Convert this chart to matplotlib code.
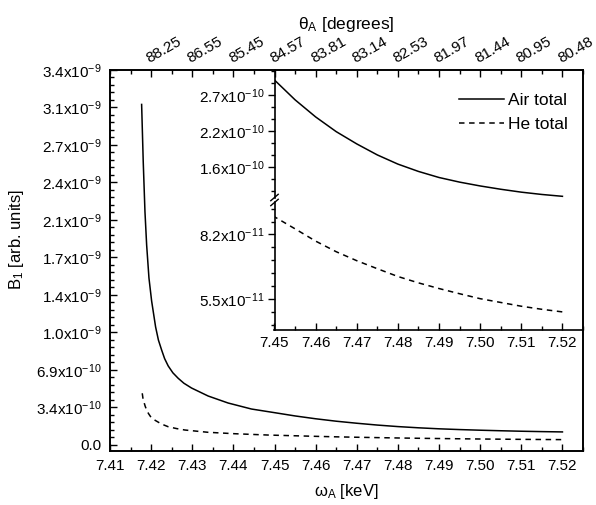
import matplotlib
matplotlib.use('Agg')
import matplotlib.pyplot as plt
from matplotlib.ticker import MultipleLocator, FuncFormatter

plt.rcParams['font.family'] = 'Liberation Sans'
plt.rcParams['font.size'] = 11
plt.rcParams['mathtext.fontset'] = 'custom'
plt.rcParams['mathtext.rm'] = 'Liberation Sans'
plt.rcParams['mathtext.it'] = 'Liberation Sans:italic'

# values
energy_air = [7.41769, 7.41808, 7.41850, 7.41891, 7.41947, 7.42012, 7.42109, 7.42177,
              7.42255, 7.42328, 7.42415, 7.42529, 7.42658, 7.42796, 7.42983, 7.43386,
              7.43871, 7.44439, 7.450, 7.455, 7.460, 7.465, 7.470, 7.475, 7.480, 7.485,
              7.490, 7.495, 7.500, 7.505, 7.510, 7.515, 7.520]
air_total = [3.115e-9, 2.591e-9, 2.134e-9, 1.829e-9, 1.528e-9, 1.317e-9, 1.079e-9, 9.60e-10,
             8.69e-10, 7.90e-10, 7.23e-10, 6.60e-10, 6.10e-10, 5.65e-10, 5.21e-10, 4.48e-10,
             3.84e-10, 3.29e-10, 2.957e-10, 2.657e-10, 2.398e-10, 2.175e-10, 1.989e-10,
             1.822e-10, 1.683e-10, 1.572e-10, 1.480e-10, 1.410e-10, 1.352e-10, 1.302e-10,
             1.258e-10, 1.223e-10, 1.195e-10]

energy_he = [7.41784, 7.41800, 7.41825, 7.41855, 7.41891, 7.41935, 7.41983, 7.42040,
             7.42104, 7.42250, 7.42415, 7.42620, 7.42820, 7.43386, 7.44034, 7.44842,
             7.450, 7.455, 7.460, 7.465, 7.470, 7.475, 7.480, 7.485, 7.490, 7.495, 7.500,
             7.505, 7.510, 7.515, 7.520]
he_total = [4.73e-10, 4.30e-10, 3.93e-10, 3.55e-10, 3.20e-10, 2.88e-10, 2.61e-10, 2.41e-10,
            2.24e-10, 1.92e-10, 1.67e-10, 1.50e-10, 1.37e-10, 1.16e-10, 1.03e-10, 9.10e-11,
            8.94e-11, 8.43e-11, 7.91e-11, 7.46e-11, 7.08e-11, 6.74e-11, 6.41e-11, 6.14e-11,
            5.90e-11, 5.68e-11, 5.47e-11, 5.31e-11, 5.15e-11, 5.02e-11, 4.91e-11]

bottom_ticks = [7.41, 7.42, 7.43, 7.44, 7.45, 7.46, 7.47, 7.48, 7.49, 7.50, 7.51, 7.52]
inset_ticks = [7.45, 7.46, 7.47, 7.48, 7.49, 7.50, 7.51, 7.52]
theta_ticks = [7.42, 7.43, 7.44, 7.45, 7.46, 7.47, 7.48, 7.49, 7.50, 7.51, 7.52]
theta_labels = ['88.25', '86.55', '85.45', '84.57', '83.81', '83.14', '82.53',
                '81.97', '81.44', '80.95', '80.48']

DASH = (0, (3.6, 3.0))


def sci_label(v, pos):
    if abs(v) < 1e-15:
        return '0.0'
    m, e = f'{v:.1e}'.split('e')
    return f'{m}x10$^{{{int(e)}}}$'


def style(a, direction='in'):
    for s in a.spines.values():
        s.set_linewidth(1.2)
    a.tick_params(which='major', direction=direction, length=5, width=1)
    a.tick_params(which='minor', direction=direction, length=3, width=1)


fig = plt.figure(figsize=(5.96, 5.05), dpi=100)
ax = fig.add_axes([110 / 596, 54 / 505, 473 / 596, 381 / 505])
ax.plot(energy_air, air_total, color='black', lw=1.1)
ax.plot(energy_he, he_total, color='black', lw=1.1, linestyle=DASH)
ax.set_xlim(7.41, 7.525)
ax.set_ylim(-5.5e-11, 3.43e-9)
ax.set_xticks(bottom_ticks)
ax.set_xticklabels([f'{t:.2f}' for t in bottom_ticks])
ax.xaxis.set_minor_locator(MultipleLocator(0.005))
ax.yaxis.set_major_locator(MultipleLocator(3.43e-10))
ax.yaxis.set_minor_locator(MultipleLocator(3.43e-10 / 5))
ax.yaxis.set_major_formatter(FuncFormatter(sci_label))
style(ax)
ax.tick_params(axis='x', pad=6)
ax.tick_params(axis='y', pad=6)
ax.set_xlabel('ω$_\\mathrm{A}$ [keV]', fontsize=12, labelpad=6)
ax.set_ylabel('B$_1$ [arb. units]', fontsize=12)
ax.yaxis.set_label_coords(-0.178, 0.556)

top = ax.twiny()
top.set_xlim(ax.get_xlim())
top.set_xticks(theta_ticks)
top.set_xticklabels(theta_labels, rotation=30, ha='left', rotation_mode='anchor')
top.xaxis.set_minor_locator(MultipleLocator(0.005))
style(top)
top.tick_params(axis='x', pad=3)
top.set_xlabel('θ$_\\mathrm{A}$ [degrees]', fontsize=12.5, labelpad=4)

# inset with broken y axis
L, W = 274.5 / 596, (583 - 274.5) / 596
ins_up = fig.add_axes([L, (505 - 197.5) / 505, W, 127.5 / 505])
ins_lo = fig.add_axes([L, (505 - 330) / 505, W, 127.5 / 505])
for a in (ins_up, ins_lo):
    a.set_facecolor('none')
    a.plot(energy_air, air_total, color='black', lw=1.1, label='Air total')
    a.plot(energy_he, he_total, color='black', lw=1.1, linestyle=DASH, label='He total')
    a.set_xlim(7.45, 7.525)
    a.spines['right'].set_visible(False)
    a.yaxis.set_major_formatter(FuncFormatter(sci_label))
    style(a)
    a.tick_params(axis='y', which='both', direction='out')
    a.tick_params(axis='y', pad=2)

ins_up.set_ylim(1.177e-10, 3.109e-10)
ins_up.yaxis.set_major_locator(MultipleLocator(5.46e-11))
ins_up.yaxis.set_minor_locator(MultipleLocator(5.46e-11 / 3))
ins_up.spines['top'].set_visible(False)
ins_up.spines['bottom'].set_visible(False)
ins_up.set_xticks([])

ins_lo.set_ylim(4.143e-11, 9.546e-11)
ins_lo.yaxis.set_major_locator(MultipleLocator(2.73e-11))
ins_lo.yaxis.set_minor_locator(MultipleLocator(2.73e-11 / 5))
ins_lo.spines['top'].set_visible(False)
ins_lo.set_xticks(inset_ticks)
ins_lo.set_xticklabels([f'{t:.2f}' for t in inset_ticks])
ins_lo.xaxis.set_minor_locator(MultipleLocator(0.005))
ins_lo.tick_params(axis='x', pad=4)

# break marks on the inset's left spine
for a, yy in ((ins_up, 0.0), (ins_lo, 1.0)):
    a.plot([-0.012, 0.012], [yy - 0.025, yy + 0.025], transform=a.transAxes,
           color='black', lw=1.0, clip_on=False)

ins_up.legend(loc='upper right', bbox_to_anchor=(0.975, 0.875), borderaxespad=0,
              frameon=False, fontsize=12.5, handlelength=2.6, handletextpad=0.25)

fig.savefig('out.png', dpi=100)
